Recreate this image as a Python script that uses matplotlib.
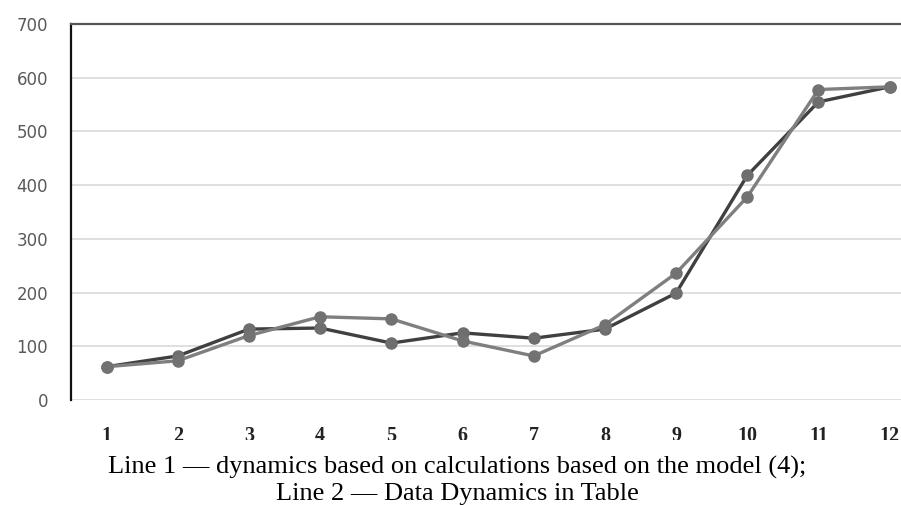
import matplotlib
matplotlib.use("Agg")
import matplotlib.pyplot as plt
from matplotlib.patches import Rectangle

# dados
meses = [1, 2, 3, 4, 5, 6, 7, 8, 9, 10, 11, 12]
linha1 = [62, 82, 132, 134, 106, 125, 115, 132, 199, 418, 555, 583]
linha2 = [62, 73, 120, 155, 151, 110, 82, 140, 236, 378, 578, 583]
y_ticks = [0, 100, 200, 300, 400, 500, 600, 700]
legenda = ["Line 1 \u2014 dynamics based on calculations based on the model (4);",
           "Line 2 \u2014 Data Dynamics in Table"]

fig = plt.figure(figsize=(9.01, 5.05), dpi=100)
ax = fig.add_axes([71 / 901, 1 - 400 / 505, 1 - 71 / 901, 376 / 505])

# linhas
ax.plot(meses, linha1, '-', color='#404040', linewidth=2.4, marker='o',
        markersize=8, markerfacecolor='#6e6e6e', markeredgecolor='#6e6e6e', zorder=3)
ax.plot(meses, linha2, '-', color='#7f7f7f', linewidth=2.4, marker='o',
        markersize=8, markerfacecolor='#727272', markeredgecolor='#727272', zorder=4)

ax.set_xlim(0.5, 12.16)
ax.set_ylim(0, 700)
ax.set_yticks(y_ticks)
ax.set_xticks(meses)
ax.set_xticklabels([str(m) for m in meses], fontfamily='Liberation Serif',
                   fontsize=14.5, fontweight='bold', color='#222222')
ax.tick_params(axis='y', length=0, pad=16.5, labelsize=12, labelcolor='#595959')
ax.tick_params(axis='x', length=0, pad=18.5)

ax.grid(axis='y', color='#d9d9d9', linewidth=1.2)
ax.set_axisbelow(True)
for lado in ['right', 'bottom']:
    ax.spines[lado].set_visible(False)
ax.spines['left'].set_color('#111111')
ax.spines['left'].set_linewidth(1.6)
ax.spines['top'].set_color('#555555')
ax.spines['top'].set_linewidth(1.6)

# rótulos do eixo x aparecem cortados na imagem original
fig.patches.append(Rectangle((0, 0), 1, 1 - 440 / 505, transform=fig.transFigure,
                             facecolor='white', edgecolor='none', zorder=10))

fig.text(457 / 901, 1 - 474 / 505, legenda[0], ha='center', va='baseline',
         fontfamily='Liberation Serif', fontsize=19, zorder=11)
fig.text(457 / 901, 1 - 500 / 505, legenda[1], ha='center', va='baseline',
         fontfamily='Liberation Serif', fontsize=19, zorder=11)

fig.savefig('out.png', dpi=100)
